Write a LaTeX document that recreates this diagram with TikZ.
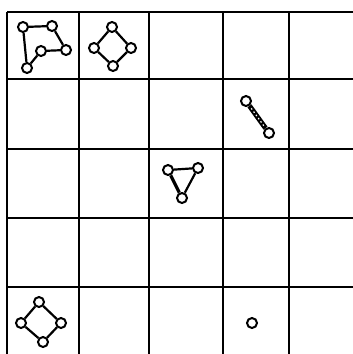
\documentclass[tikz,border=0pt]{standalone}
\begin{document}
\begin{tikzpicture}[x=1pt,y=-1pt,
  gridline/.style={line width=2.8pt,black},
  vtx/.style={circle,draw=black,line width=2pt,fill=white,inner sep=0pt,minimum size=10pt},
  edg/.style={line width=2.2pt,black},
  dbl/.style={line width=5pt,black}]
\useasboundingbox (0,0) rectangle (353,354);
\fill[white] (0,0) rectangle (353,354);
\clip (0,0) rectangle (353,354);
% grid
\foreach \x in {7,79,149,223,289} \draw[gridline] (\x,12) -- (\x,360);
\foreach \y in {12,79,149,218,287} \draw[gridline] (7,\y) -- (360,\y);
% cell (1,1)
\node[vtx] (a1) at (23,27) {};
\node[vtx] (a2) at (52,26) {};
\node[vtx] (a3) at (66,50) {};
\node[vtx] (a4) at (41,51) {};
\node[vtx] (a5) at (27,68) {};
\draw[edg] (a1) -- (a2) (a2) -- (a3) (a3) -- (a4) (a4) -- (a5) (a5) -- (a1);
% cell (1,2)
\node[vtx] (b1) at (112,27) {};
\node[vtx] (b2) at (131,48) {};
\node[vtx] (b3) at (113,66) {};
\node[vtx] (b4) at (94,48) {};
\draw[edg] (b1) -- (b2) (b2) -- (b3) (b3) -- (b4) (b4) -- (b1);
% cell (2,4)
\node[vtx] (c1) at (246,101) {};
\node[vtx] (c2) at (269,133) {};
\draw[dbl] (c1) -- (c2);
\draw[white,line width=1.2pt,dash pattern=on 1.5pt off 2.5pt,shorten <=3pt,shorten >=3pt] (c1) -- (c2);
% cell (3,3)
\node[vtx] (d1) at (168,170) {};
\node[vtx] (d2) at (198,168) {};
\node[vtx] (d3) at (182,198) {};
\draw[edg] (d1) -- (d2) (d2) -- (d3);
\draw[line width=3.2pt] (d1) -- (d3);
% cell (5,1)
\node[vtx] (e1) at (39,302) {};
\node[vtx] (e2) at (61,323) {};
\node[vtx] (e3) at (43,342) {};
\node[vtx] (e4) at (21,323) {};
\draw[edg] (e1) -- (e2) (e2) -- (e3) (e3) -- (e4) (e4) -- (e1);
% cell (5,4)
\node[vtx] (f1) at (252,323) {};
\end{tikzpicture}
\end{document}
